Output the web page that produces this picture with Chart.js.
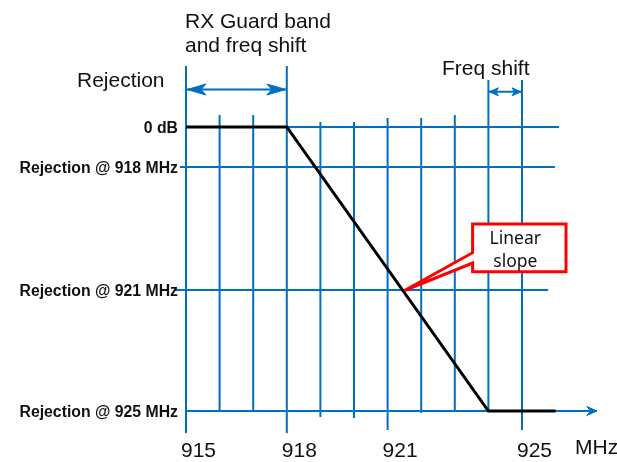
<!DOCTYPE html>
<html>
<head>
<meta charset="utf-8">
<script src="https://cdn.jsdelivr.net/npm/chart.js@4/dist/chart.umd.min.js"></script>
<style>
  html, body { margin: 0; padding: 0; background: #fff; }
  canvas { display: block; }
</style>
</head>
<body>
<canvas id="chart" width="617" height="462"></canvas>
<script>
'use strict';

const BLUE = '#0070C0';
const RED = '#FF0000';

// Frequency grid (MHz) and how far each vertical line reaches (level units)
const GRID_FREQS = [915, 916, 917, 918, 919, 920, 921, 922, 923, 924, 925];
const GRID_TOP = [15.25, 3, 3, 15.25, 1.25, 1.25, 2.25, 2.25, 3, 11.75, 11.75];
const GRID_BOTTOM = [-76.5, -71, -71, -76.5, -72.5, -72.75, -75.75, -71.5, -71, -71, -75.75];
const FREQ_TICKS = [915, 918, 921, 925];

// Rejection levels (horizontal lines) and their extents
const LEVEL_LABELS = ['0 dB', 'Rejection @ 918 MHz', 'Rejection @ 921 MHz', 'Rejection @ 925 MHz'];
const LEVEL_DB = [0, -10, -40.75, -71];
const LEVEL_FROM = [915, 914.82, 914.67, 915];
const LEVEL_TO = [926.1, 925.98, 925.78, 927.23];

// Filter response: flat, linear slope, flat
const RESPONSE_FREQ = [915, 918, 924, 926];
const RESPONSE_DB = [0, 0, -71, -71];

// Dimension arrows
const GUARD_BAND = [915, 918];
const FREQ_SHIFT = [924, 925];

function segment(x0, y0, x1, y1, color, width) {
  return {
    data: [{ x: x0, y: y0 }, { x: x1, y: y1 }],
    borderColor: color,
    borderWidth: width,
    pointRadius: 0,
    showLine: true,
    clip: false,
    borderCapStyle: 'butt',
  };
}

// x position on the slope where it reaches a given level
function slopeFreqAt(level) {
  for (let i = 0; i < RESPONSE_DB.length - 1; i++) {
    const a = RESPONSE_DB[i], b = RESPONSE_DB[i + 1];
    if (a !== b && level <= a && level >= b) {
      const t = (level - a) / (b - a);
      return RESPONSE_FREQ[i] + t * (RESPONSE_FREQ[i + 1] - RESPONSE_FREQ[i]);
    }
  }
  return RESPONSE_FREQ[0];
}

const datasets = [];

// response drawn first => on top
datasets.push({
  data: RESPONSE_FREQ.map((f, i) => ({ x: f, y: RESPONSE_DB[i] })),
  borderColor: '#000',
  borderWidth: 3,
  pointRadius: 0,
  showLine: true,
  clip: false,
  borderJoinStyle: 'miter',
});

GRID_FREQS.forEach((f, i) => {
  datasets.push(segment(f, GRID_TOP[i], f, GRID_BOTTOM[i], BLUE, 2));
});
LEVEL_DB.forEach((v, i) => {
  datasets.push(segment(LEVEL_FROM[i], v, LEVEL_TO[i], v, BLUE, 2));
});
datasets.push(segment(GUARD_BAND[0], 9.375, GUARD_BAND[1], 9.375, BLUE, 2));
datasets.push(segment(FREQ_SHIFT[0], 8.8, FREQ_SHIFT[1], 8.8, BLUE, 2));

function arrowHead(ctx, tipX, tipY, dir, len, half, notch) {
  ctx.beginPath();
  ctx.moveTo(tipX, tipY);
  ctx.lineTo(tipX - dir * len, tipY - half);
  ctx.lineTo(tipX - dir * notch, tipY);
  ctx.lineTo(tipX - dir * len, tipY + half);
  ctx.closePath();
  ctx.fill();
  ctx.stroke();
}

const notes = {
  id: 'notes',
  afterDatasetsDraw(chart) {
    const { ctx, scales: { x, y } } = chart;
    ctx.save();

    // arrow heads
    ctx.fillStyle = BLUE;
    ctx.strokeStyle = BLUE;
    ctx.lineWidth = 1;
    ctx.lineJoin = 'round';
    const gy = y.getPixelForValue(9.375);
    arrowHead(ctx, x.getPixelForValue(GUARD_BAND[0]) + 1, gy, -1, 19, 5.5, 14);
    arrowHead(ctx, x.getPixelForValue(GUARD_BAND[1]) - 1, gy, 1, 19, 5.5, 14);
    const fy = y.getPixelForValue(8.8);
    arrowHead(ctx, x.getPixelForValue(FREQ_SHIFT[0]) + 1, fy, -1, 9, 4, 6.5);
    arrowHead(ctx, x.getPixelForValue(FREQ_SHIFT[1]) - 1, fy, 1, 9, 4, 6.5);
    const axisEnd = LEVEL_TO[LEVEL_TO.length - 1];
    arrowHead(ctx, x.getPixelForValue(axisEnd), y.getPixelForValue(LEVEL_DB[3]), 1, 10, 4.5, 6.5);

    // captions
    ctx.fillStyle = '#111';
    ctx.font = '21px "Liberation Sans", Arial, sans-serif';
    ctx.textAlign = 'left';
    ctx.textBaseline = 'alphabetic';
    ctx.fillText('Rejection', 77, 87);
    ctx.fillText('RX Guard band', 185, 28);
    ctx.fillText('and freq shift', 185, 52);
    ctx.fillText('Freq shift', 442, 75);

    // frequency labels
    FREQ_TICKS.forEach(f => {
      ctx.fillText(String(f), x.getPixelForValue(f) - 5, 457);
    });
    ctx.fillText('MHz', 575, 454);

    // level labels
    ctx.font = 'bold 15.8px "Liberation Sans", Arial, sans-serif';
    ctx.textAlign = 'right';
    ctx.textBaseline = 'middle';
    LEVEL_LABELS.forEach((lbl, i) => {
      ctx.fillText(lbl, x.getPixelForValue(915) - 8, y.getPixelForValue(LEVEL_DB[i]) + 1.5);
    });

    // callout pointing at the slope
    const tipX = x.getPixelForValue(slopeFreqAt(LEVEL_DB[2])) + 2;
    const tipY = y.getPixelForValue(LEVEL_DB[2]) + 0.5;
    const bx0 = x.getPixelForValue(923.53), bx1 = x.getPixelForValue(926.31);
    const by0 = y.getPixelForValue(-24.25), by1 = y.getPixelForValue(-36.2);
    ctx.beginPath();
    ctx.moveTo(bx0, by0);
    ctx.lineTo(bx1, by0);
    ctx.lineTo(bx1, by1);
    ctx.lineTo(bx0, by1);
    ctx.lineTo(bx0, by0 + 39);
    ctx.lineTo(tipX, tipY);
    ctx.lineTo(bx0, by0 + 28.7);
    ctx.closePath();
    ctx.fillStyle = '#fff';
    ctx.fill();
    ctx.strokeStyle = RED;
    ctx.lineWidth = 3;
    ctx.lineJoin = 'miter';
    ctx.stroke();

    ctx.fillStyle = '#111';
    ctx.font = '17.5px "Noto Sans", "Open Sans", sans-serif';
    ctx.textAlign = 'center';
    ctx.textBaseline = 'alphabetic';
    const cx = (bx0 + bx1) / 2 - 4;
    ctx.fillText('Linear', cx, by0 + 19.5);
    ctx.fillText('slope', cx, by0 + 42.5);

    ctx.restore();
  },
};

new Chart(document.getElementById('chart'), {
  type: 'scatter',
  data: { datasets },
  options: {
    responsive: false,
    devicePixelRatio: 1,
    animation: false,
    events: [],
    layout: { padding: { left: 152.4, right: 11, top: 47, bottom: 15 } },
    plugins: { legend: { display: false }, tooltip: { enabled: false } },
    scales: {
      x: { type: 'linear', min: 914, max: 927.5, display: false },
      y: { type: 'linear', min: -80, max: 20, display: false },
    },
  },
  plugins: [notes],
});
</script>
</body>
</html>
